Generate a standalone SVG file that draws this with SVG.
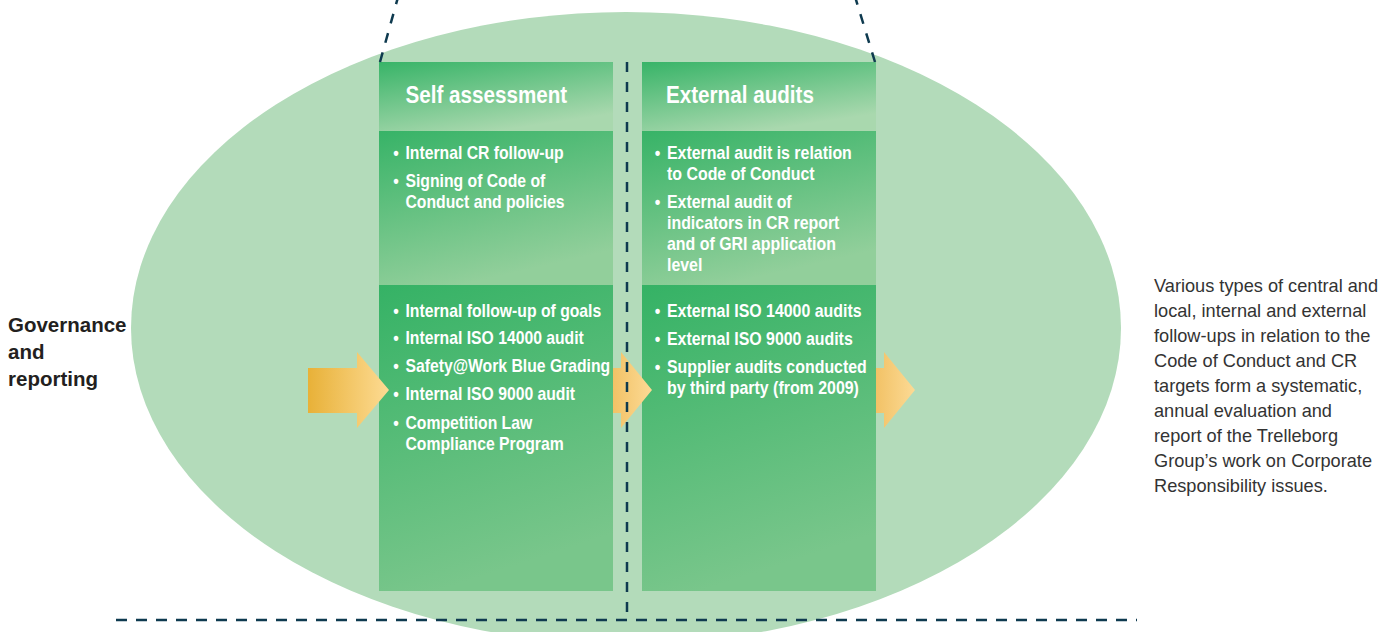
<svg xmlns="http://www.w3.org/2000/svg" width="1397" height="632" viewBox="0 0 1397 632">
<defs>
<linearGradient id="gHead" x1="0" y1="0" x2="0.5" y2="1"><stop offset="0" stop-color="#38b468"/><stop offset="1" stop-color="#a9d8ae"/></linearGradient>
<linearGradient id="gMid" x1="0" y1="0" x2="0.35" y2="1"><stop offset="0" stop-color="#37b367"/><stop offset="1" stop-color="#92cf9b"/></linearGradient>
<linearGradient id="gLow" x1="0" y1="0" x2="0.25" y2="1"><stop offset="0" stop-color="#35b265"/><stop offset="1" stop-color="#79c68b"/></linearGradient>
<linearGradient id="gArrow1" x1="308" y1="0" x2="389" y2="0" gradientUnits="userSpaceOnUse"><stop offset="0" stop-color="#e8b138"/><stop offset="1" stop-color="#fddb93"/></linearGradient>
<linearGradient id="gArrow2" x1="613" y1="0" x2="652" y2="0" gradientUnits="userSpaceOnUse"><stop offset="0" stop-color="#f2c266"/><stop offset="1" stop-color="#fcda95"/></linearGradient>
<linearGradient id="gArrow3" x1="876" y1="0" x2="915" y2="0" gradientUnits="userSpaceOnUse"><stop offset="0" stop-color="#f2c266"/><stop offset="1" stop-color="#fcda95"/></linearGradient>
<style>
.hd{font-family:"Liberation Sans",Arial,sans-serif;font-weight:bold;font-size:24px;fill:#ffffff}
.bt{font-family:"Liberation Sans",Arial,sans-serif;font-weight:bold;font-size:17.5px;fill:#ffffff}
.bl{font-family:"Liberation Sans",Arial,sans-serif;font-weight:bold;font-size:17.5px;fill:#ffffff;text-anchor:middle}
.gov{font-family:"Liberation Sans",Arial,sans-serif;font-weight:bold;font-size:20.5px;fill:#231f20}
.desc{font-family:"Liberation Sans",Arial,sans-serif;font-size:18.2px;fill:#333333}
.dash{fill:none;stroke:#0e3a4f;stroke-width:2.5;stroke-dasharray:10 10}
</style>
</defs>

<g id="background">
<ellipse cx="626" cy="328" rx="495" ry="316" fill="#b3dbba"/>
</g>

<g id="self-assessment">
<rect x="379" y="62" width="234" height="69" fill="url(#gHead)"/>
<rect x="379" y="131" width="234" height="154" fill="url(#gMid)"/>
<rect x="379" y="285" width="234" height="306" fill="url(#gLow)"/>
<g transform="translate(405.5 0) scale(0.86 1)">
<text class="hd" x="0" y="103">Self assessment</text>
</g>
<g transform="translate(405.5 0) scale(0.9 1)">
<text class="bl" x="-10.5" y="159">•</text>
<text class="bt" x="0" y="159">Internal CR follow-up</text>
<text class="bl" x="-10.5" y="187">•</text>
<text class="bt" x="0" y="187">Signing of Code of</text>
<text class="bt" x="0" y="208">Conduct and policies</text>
<text class="bl" x="-10.5" y="317">•</text>
<text class="bt" x="0" y="317">Internal follow-up of goals</text>
<text class="bl" x="-10.5" y="344">•</text>
<text class="bt" x="0" y="344">Internal ISO 14000 audit</text>
<text class="bl" x="-10.5" y="372.5">•</text>
<text class="bt" x="0" y="372.5">Safety@Work Blue Grading</text>
<text class="bl" x="-10.5" y="400.5">•</text>
<text class="bt" x="0" y="400.5">Internal ISO 9000 audit</text>
<text class="bl" x="-10.5" y="429">•</text>
<text class="bt" x="0" y="429">Competition Law</text>
<text class="bt" x="0" y="450">Compliance Program</text>
</g>
</g>

<g id="external-audits">
<rect x="642" y="62" width="234" height="69" fill="url(#gHead)"/>
<rect x="642" y="131" width="234" height="154" fill="url(#gMid)"/>
<rect x="642" y="285" width="234" height="306" fill="url(#gLow)"/>
<g transform="translate(666 0) scale(0.86 1)">
<text class="hd" x="0" y="103">External audits</text>
</g>
<g transform="translate(667 0) scale(0.91 1)">
<text class="bl" x="-10.5" y="159">•</text>
<text class="bt" x="0" y="159">External audit is relation</text>
<text class="bt" x="0" y="180">to Code of Conduct</text>
<text class="bl" x="-10.5" y="208">•</text>
<text class="bt" x="0" y="208">External audit of</text>
<text class="bt" x="0" y="229">indicators in CR report</text>
<text class="bt" x="0" y="250">and of GRI application</text>
<text class="bt" x="0" y="271">level</text>
<text class="bl" x="-10.5" y="317">•</text>
<text class="bt" x="0" y="317">External ISO 14000 audits</text>
<text class="bl" x="-10.5" y="345">•</text>
<text class="bt" x="0" y="345">External ISO 9000 audits</text>
<text class="bl" x="-10.5" y="373">•</text>
<text class="bt" x="0" y="373">Supplier audits conducted</text>
<text class="bt" x="0" y="394">by third party (from 2009)</text>
</g>
</g>

<g id="governance-label">
<text class="gov" x="8" y="332">Governance</text>
<text class="gov" x="8" y="359">and</text>
<text class="gov" x="8" y="386">reporting</text>
</g>

<g id="description">
<text class="desc" x="1154" y="292">Various types of central and</text>
<text class="desc" x="1154" y="317">local, internal and external</text>
<text class="desc" x="1154" y="342">follow-ups in relation to the</text>
<text class="desc" x="1154" y="367">Code of Conduct and CR</text>
<text class="desc" x="1154" y="392">targets form a systematic,</text>
<text class="desc" x="1154" y="417">annual evaluation and</text>
<text class="desc" x="1154" y="442">report of the Trelleborg</text>
<text class="desc" x="1154" y="467">Group’s work on Corporate</text>
<text class="desc" x="1154" y="492">Responsibility issues.</text>
</g>

<g id="connectors">
<polygon points="308,368 357,368 357,352 389,390 357,428 357,413 308,413" fill="url(#gArrow1)"/>
<polygon points="613,368 621,368 621,352 652,390 621,428 621,413 613,413" fill="url(#gArrow2)"/>
<polygon points="876,368 884,368 884,352 915,390 884,428 884,413 876,413" fill="url(#gArrow3)"/>
<line class="dash" x1="627" y1="62" x2="627" y2="620"/>
<line class="dash" x1="116" y1="620" x2="1137" y2="620" style="stroke-dasharray:11 9"/>
<line class="dash" x1="380" y1="62" x2="400" y2="-10"/>
<line class="dash" x1="875" y1="62" x2="853" y2="-10"/>
</g>
</svg>
